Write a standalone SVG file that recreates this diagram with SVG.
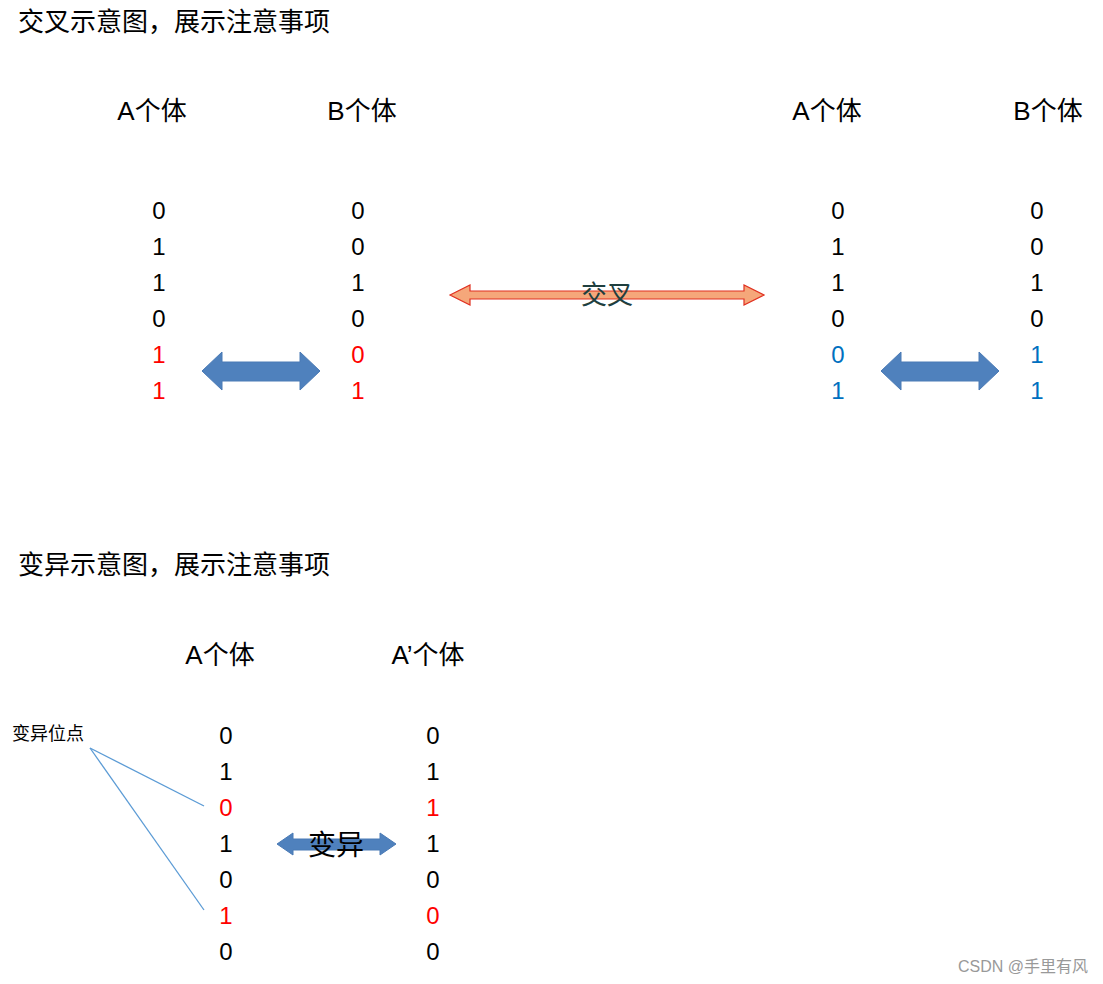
<svg xmlns="http://www.w3.org/2000/svg" width="1103" height="984" viewBox="0 0 1103 984">
<style>
text{font-family:"Liberation Sans","Noto Sans CJK SC",sans-serif;fill:#000}
.t{font-size:26px}
.h{font-size:26px;text-anchor:middle}
.d{font-size:24px;text-anchor:middle}
.r{fill:#ff0000}
.b{fill:#0070c0}
.blue{fill:#4f81bd;stroke:#4a7ab5;stroke-width:1}
</style>
<rect width="1103" height="984" fill="#fff"/>
<g id="titles">
<text class="t" x="18" y="31">交叉示意图，展示注意事项</text>
<text class="t" x="18" y="574">变异示意图，展示注意事项</text>
</g>
<g id="colA1"><text class="h" x="152" y="120">A个体</text>
<text class="d" x="159" y="219">0</text><text class="d" x="159" y="255">1</text><text class="d" x="159" y="291">1</text><text class="d" x="159" y="327">0</text><text class="d r" x="159" y="363">1</text><text class="d r" x="159" y="399">1</text></g>
<g id="colB1"><text class="h" x="362" y="120">B个体</text>
<text class="d" x="358" y="219">0</text><text class="d" x="358" y="255">0</text><text class="d" x="358" y="291">1</text><text class="d" x="358" y="327">0</text><text class="d r" x="358" y="363">0</text><text class="d r" x="358" y="399">1</text></g>
<g id="colA2"><text class="h" x="827" y="120">A个体</text>
<text class="d" x="838" y="219">0</text><text class="d" x="838" y="255">1</text><text class="d" x="838" y="291">1</text><text class="d" x="838" y="327">0</text><text class="d b" x="838" y="363">0</text><text class="d b" x="838" y="399">1</text></g>
<g id="colB2"><text class="h" x="1048" y="120">B个体</text>
<text class="d" x="1037" y="219">0</text><text class="d" x="1037" y="255">0</text><text class="d" x="1037" y="291">1</text><text class="d" x="1037" y="327">0</text><text class="d b" x="1037" y="363">1</text><text class="d b" x="1037" y="399">1</text></g>
<g id="colA3"><text class="h" x="220" y="664">A个体</text>
<text class="d" x="226" y="744">0</text><text class="d" x="226" y="780">1</text><text class="d r" x="226" y="816">0</text><text class="d" x="226" y="852">1</text><text class="d" x="226" y="888">0</text><text class="d r" x="226" y="924">1</text><text class="d" x="226" y="960">0</text></g>
<g id="colA4"><text class="h" x="428" y="664">A’个体</text>
<text class="d" x="433" y="744">0</text><text class="d" x="433" y="780">1</text><text class="d r" x="433" y="816">1</text><text class="d" x="433" y="852">1</text><text class="d" x="433" y="888">0</text><text class="d r" x="433" y="924">0</text><text class="d" x="433" y="960">0</text></g>
<g id="connectors">
<polygon points="450,295 470,285 470,291 744,291 744,285 764,295 744,305 744,299 470,299 470,305" fill="#f5a77a" stroke="#e03020" stroke-width="1.2"/>
<polygon class="blue" points="202,371 222,352 222,362 300,362 300,352 320,371 300,390 300,381 222,381 222,390"/>
<polygon class="blue" points="881,371 901,352 901,362 979,362 979,352 999,371 979,390 979,381 901,381 901,390"/>
<polygon class="blue" points="277,844 293,833 293,839 380,839 380,833 396,844 380,855 380,850 293,850 293,855"/>
<line x1="90" y1="748" x2="204" y2="806" stroke="#5b9bd5" stroke-width="1.3"/>
<line x1="90" y1="748" x2="204" y2="910" stroke="#5b9bd5" stroke-width="1.3"/>
</g>
<g id="labels">
<text x="607" y="304" font-size="26" text-anchor="middle" style="fill:#1f3f3f">交叉</text>
<text x="336" y="855" font-size="28" text-anchor="middle">变异</text>
<text x="12" y="740" font-size="18">变异位点</text>
<text x="1088" y="972" font-size="16" text-anchor="end" style="fill:#999">CSDN @手里有风</text>
</g>
</svg>
